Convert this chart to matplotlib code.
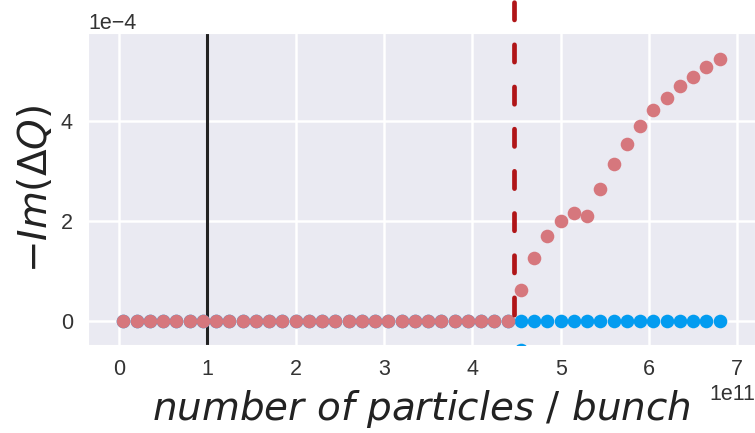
import numpy as np
import matplotlib
matplotlib.use("Agg")
import matplotlib.pyplot as plt
import seaborn as sns

# bunch intensity (units of 1e11 particles)
n_particles = [0.05, 0.20, 0.35, 0.50, 0.65, 0.80, 0.95, 1.10, 1.25, 1.40,
               1.55, 1.70, 1.85, 2.00, 2.15, 2.30, 2.45, 2.60, 2.75, 2.90,
               3.05, 3.20, 3.35, 3.50, 3.65, 3.80, 3.95, 4.10, 4.25, 4.40,
               4.55, 4.70, 4.85, 5.00, 5.15, 5.30, 5.45, 5.60, 5.75, 5.90,
               6.05, 6.20, 6.35, 6.50, 6.65, 6.80]

# -Im(dQ) in units of 1e-4
growth_unstable = [0.0] * 30 + [0.62, 1.27, 1.70, 2.01, 2.17, 2.10, 2.65, 3.14,
                                3.55, 3.91, 4.21, 4.46, 4.69, 4.88, 5.07, 5.23]
growth_stable = [0.0] * 46
extra_x = [4.55]
extra_y = [-0.58]

threshold = 4.47
reference_intensity = 1.0

sns.set_style("darkgrid")
plt.rcParams["font.family"] = ["Liberation Sans", "DejaVu Sans"]
plt.rcParams["mathtext.fontset"] = "dejavusans"

scale_x = 1e11
scale_y = 1e-4
x = np.array(n_particles) * scale_x
y_red = np.array(growth_unstable) * scale_y
y_blue = np.array(growth_stable) * scale_y

fig = plt.figure(figsize=(7.55, 4.33), dpi=100)
ax = fig.add_axes([0.1166, 0.2032, 0.8834, 0.7206])

ax.plot(x, y_blue, "o", color="#039cf0", ms=9.8, mew=0, zorder=3)
ax.plot(np.array(extra_x) * scale_x, np.array(extra_y) * scale_y, "o",
        color="#039cf0", ms=9.8, mew=0, zorder=3)
ax.plot(x, y_red, "o", color="#d6777d", ms=9.8, mew=0, zorder=4)

ax.axvline(reference_intensity * scale_x, color="#222222", lw=2.2, zorder=2)

ylo, yhi = -0.48 * scale_y, 5.76 * scale_y
ax.set_xlim(-0.35 * scale_x, 7.2 * scale_x)
ax.set_ylim(ylo, yhi)
ymin_frac = (0 - ylo) / (yhi - ylo)
ax.axvline(threshold * scale_x, ymin=ymin_frac, ymax=1.6, clip_on=False,
           color="#b01518", lw=3.4, linestyle=(7.58, (3.66, 5.27)),
           dash_capstyle="round", zorder=5)

ax.set_xticks(np.arange(0, 8) * scale_x)
ax.set_yticks(np.array([0, 2, 4]) * scale_y)
ax.ticklabel_format(style="sci", axis="both", scilimits=(0, 0))
ax.tick_params(axis="x", length=0, pad=10, labelsize=15.5, colors="#333333")
ax.tick_params(axis="y", length=0, pad=11, labelsize=15.5, colors="#333333")
ax.xaxis.get_offset_text().set_fontsize(15.5)
ax.yaxis.get_offset_text().set_fontsize(15.5)
ax.grid(color="white", lw=1.8)

ax.set_xlabel(r"$number\ of\ particles\ /\ bunch$", fontsize=28,
              color="#222222", labelpad=6)
ax.set_ylabel(r"$-Im(\Delta Q)$", fontsize=28, color="#222222", labelpad=4)

fig.savefig("out.png", dpi=100)
